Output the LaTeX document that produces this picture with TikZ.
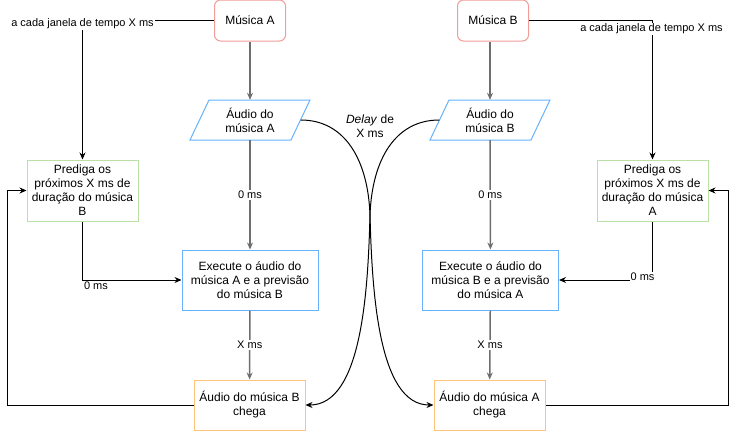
\documentclass[tikz,border=0pt]{standalone}
\usepackage{fontspec}
\setmainfont{Liberation Sans}
\usetikzlibrary{arrows.meta}
\definecolor{cred}{HTML}{F19C99}
\definecolor{cgreen}{HTML}{B9E0A5}
\definecolor{cblue}{HTML}{66B2FF}
\definecolor{corange}{HTML}{FFC47A}
\definecolor{cgray}{HTML}{6E6E6E}
\tikzset{
  box/.style={draw, line width=1pt, align=center, inner sep=1pt, font=\fontsize{12}{14}\selectfont},
  redbox/.style={box, draw=cred, rounded corners=6pt, minimum width=71pt, minimum height=41pt},
  greenbox/.style={box, draw=cgreen, minimum width=111pt, minimum height=61pt},
  bluebox/.style={box, draw=cblue, minimum width=136pt, minimum height=60pt},
  orangebox/.style={box, draw=corange, minimum width=111pt, minimum height=50pt},
  parabox/.style={align=center, inner sep=0pt, minimum width=101pt, minimum height=40pt, font=\fontsize{12}{14}\selectfont},
  paraline/.style={draw=cblue, line width=1pt},
  tip/.style={-{Stealth[length=7pt,width=6pt]}},
  garrow/.style={tip, draw=cgray, line width=1.5pt},
  barrow/.style={tip, draw=black, line width=1pt},
  lbl/.style={font=\fontsize{11}{13}\selectfont, fill=white, inner sep=1pt},
}
\begin{document}
\begin{tikzpicture}[x=1pt,y=-1pt]
\useasboundingbox (0,0) rectangle (736,431);
% nodes
\node[redbox] (musA) at (250,20.5) {Música A};
\node[redbox] (musB) at (493,20.5) {Música B};
\draw[paraline] (190,140) -- (209,100) -- (310,100) -- (291,140) -- cycle;
\node[parabox] (audA) at (250,120) {Áudio do\\música A};
\draw[paraline] (430,140) -- (449,100) -- (550,100) -- (531,140) -- cycle;
\node[parabox] (audB) at (490,120) {Áudio do\\música B};
\node[greenbox] (predB) at (82.5,190.5) {Prediga os\\próximos X ms de\\duração do música\\B};
\node[greenbox] (predA) at (652.5,190.5) {Prediga os\\próximos X ms de\\duração do música\\A};
\node[bluebox] (exeA) at (250,280) {Execute o áudio do\\música A e a previsão\\do música B};
\node[bluebox] (exeB) at (490.5,280) {Execute o áudio do\\música B e a previsão\\do música A};
\node[orangebox] (chB) at (249.5,405) {Áudio do música B\\chega};
\node[orangebox] (chA) at (489.5,405) {Áudio do música A\\chega};
\node[font=\fontsize{12}{14}\selectfont, align=center, inner sep=0pt] (delay) at (370,126) {\textit{Delay} de\\X ms};
\coordinate (lb) at (7,405);
\coordinate (rb) at (728,405);
% vertical flow
\draw[garrow] (musA) -- (audA);
\draw[garrow] (audA) -- node[lbl]{0 ms} (exeA);
\draw[garrow] (exeA) -- node[lbl]{X ms} (chB);
\draw[garrow] (audB |- musB.south) -- (audB);
\draw[garrow] (audB) -- node[lbl]{0 ms} (exeB);
\draw[garrow] (exeB) -- node[lbl]{X ms} (chA);
% time window edges
\draw[barrow] (musA.west) -| node[lbl, pos=0.5, yshift=-3.5pt]{a cada janela de tempo X ms} (predB.north);
\draw[barrow] (musB.east) -| node[lbl, pos=0.5, yshift=-8.5pt, xshift=-1pt]{a cada janela de tempo X ms} (predA.north);
% predictions to execute
\draw[barrow] (predB.south) |- node[pos=0.5, anchor=north west, font=\fontsize{11}{13}\selectfont, inner sep=1pt, yshift=-0.5pt]{0 ms} (exeA.west);
\draw[barrow] (predA.south) |- node[lbl, pos=0.5, xshift=-10pt, yshift=3pt]{0 ms} (exeB.east);
% feedback
\draw[barrow] (chB.west) -- (lb) |- (predB.west);
\draw[barrow] (chA.east) -- (rb) |- (predA.east);
% delay curves
\draw[barrow] (audA.east) .. controls (345,120) and (368,160) .. (370,215) .. controls (372,290) and (378,405) .. (chA.west);
\draw[barrow] (audB.west) .. controls (395,120) and (372,160) .. (370,215) .. controls (368,290) and (362,405) .. (chB.east);
\end{tikzpicture}
\end{document}
